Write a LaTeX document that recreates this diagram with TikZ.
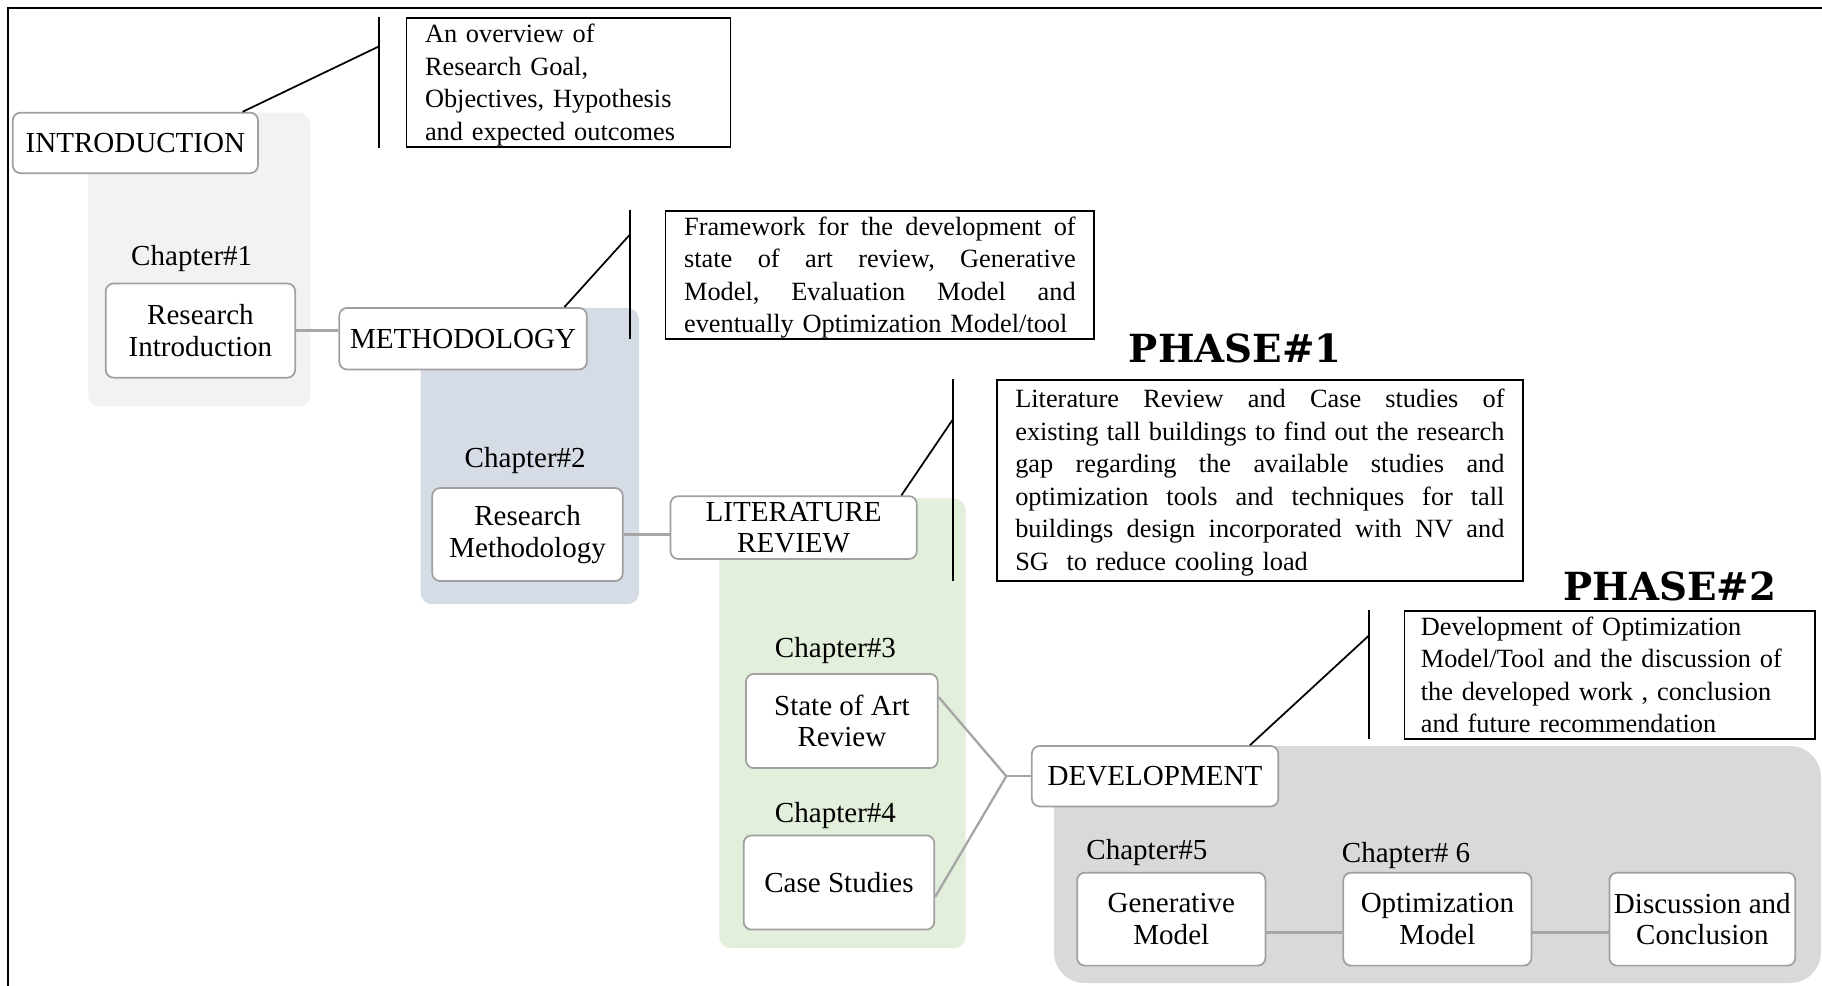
\documentclass[tikz,border=0pt]{standalone}
\usepackage{fontspec}
\setmainfont{Liberation Serif}
\newfontfamily\phasefont{DejaVu Serif}
\usetikzlibrary{calc}

\definecolor{bgone}{HTML}{F2F2F2}
\definecolor{bgtwo}{HTML}{D6DCE5}
\definecolor{bgthree}{HTML}{E2EFDA}
\definecolor{bgfour}{HTML}{D9D9D9}
\definecolor{boxline}{HTML}{A0A0A0}
\definecolor{linkline}{HTML}{A6A6A6}

% a justified line spanning the whole text width; \gap marks the word gaps
\newcommand\gap{\hspace{0.18em plus 1fill}}
\newcommand\jline[1]{\leavevmode\hbox to \hsize{#1}}
% extra room above the first line of a note
\newcommand\firststrut{\rule{0pt}{12pt}}

\begin{document}
\begin{tikzpicture}[x=0.6pt,y=-0.6pt,
  stepbox/.style={draw=boxline, line width=0.9pt, fill=white, rounded corners=4pt,
    align=center, inner xsep=2pt, inner ysep=1pt,
    font=\fontsize{15}{16.3}\selectfont},
  chaplabel/.style={inner sep=0pt, font=\fontsize{15}{16.3}\selectfont},
  notebox/.style={draw=black, line width=0.9pt, anchor=north west, align=left,
    inner xsep=9.6pt, inner ysep=0pt, font=\fontsize{13.6}{16.8}\selectfont},
  chapbg/.style={rounded corners=6pt},
  link/.style={draw=linkline, line width=1.2pt},
  callout/.style={draw=black, line width=0.9pt},
  phase/.style={inner sep=0pt, font=\phasefont\bfseries\fontsize{20}{24}\selectfont}
]
\useasboundingbox (0,0) rectangle (1568,848);
\fill[white] (0,0) rectangle (1568,848);

% outer frame
\draw[line width=1pt] (7,870) -- (7,7) -- (1590,7);

% chapter backgrounds
\fill[bgone, chapbg] (76,97) rectangle (267,350);
\fill[bgtwo, chapbg] (362,265) rectangle (550,520);
\fill[bgthree, chapbg] (619,429) rectangle (831,816);
\fill[bgfour, rounded corners=16pt] (907,642) rectangle (1567,846);

% chapter boxes
\node[stepbox, minimum width=126.6pt, minimum height=31.2pt] (intro) at (116.5,123) {INTRODUCTION};
\node[chaplabel] (ch1) at (165,222.5) {Chapter\#1};
\node[stepbox, minimum width=97.8pt, minimum height=48.6pt] (resintro) at (172.5,284.5) {Research\\Introduction};

\node[stepbox, minimum width=127.8pt, minimum height=31.8pt] (meth) at (398.5,291.5) {METHODOLOGY};
\node[chaplabel] (ch2) at (452,396.5) {Chapter\#2};
\node[stepbox, minimum width=98.4pt, minimum height=48pt] (resmeth) at (454,460) {Research\\Methodology};

\node[stepbox, minimum width=127.2pt, minimum height=32.4pt] (lit) at (683,454) {LITERATURE\\REVIEW};
\node[chaplabel] (ch3) at (719,559.5) {Chapter\#3};
\node[stepbox, minimum width=99pt, minimum height=48.6pt] (soa) at (724.5,620.5) {State of Art\\Review};
\node[chaplabel] (ch4) at (719,701.5) {Chapter\#4};
\node[stepbox, minimum width=98.4pt, minimum height=48.6pt] (cs) at (722,759.5) {Case Studies};

\node[stepbox, minimum width=127.2pt, minimum height=31.2pt] (dev) at (994,668) {DEVELOPMENT};
\node[chaplabel] (ch5) at (987,733.5) {Chapter\#5};
\node[chaplabel] (ch6) at (1210,736.5) {Chapter\# 6};
\node[stepbox, minimum width=97.2pt, minimum height=48pt] (gen) at (1008,791) {Generative\\Model};
\node[stepbox, minimum width=97.2pt, minimum height=48pt] (opt) at (1237,791) {Optimization\\Model};
\node[stepbox, minimum width=96pt, minimum height=48pt] (disc) at (1465,791) {Discussion and\\Conclusion};

% links between chapters
\coordinate (junc) at (866,668);
\draw[link] (resintro.east) -- (resintro.east -| meth.west);
\draw[link] (resmeth.east) -- (resmeth.east -| lit.west);
\draw[link] ($(soa.north east)!0.25!(soa.south east)$) -- (junc);
\draw[link] ($(cs.north east)!0.65!(cs.south east)$) -- (junc);
\draw[link] (junc) -- (junc -| dev.west);
\draw[link] ($(gen.north east)!0.64!(gen.south east)$) coordinate (ga) -- (ga -| opt.west);
\draw[link] ($(opt.north east)!0.64!(opt.south east)$) coordinate (ob) -- (ob -| disc.west);

% description boxes
\node[notebox, text width=148.2pt, minimum height=66.6pt] (ov) at (349,15) {%
\firststrut An overview of\\Research Goal,\\Objectives, Hypothesis\\and expected outcomes};

\node[notebox, text width=202.2pt, minimum height=66pt] (fw) at (572,181) {%
\jline{\firststrut Framework\gap for\gap the\gap development\gap of}\\
\jline{state\gap of\gap art\gap review,\gap Generative}\\
\jline{Model,\gap Evaluation\gap Model\gap and}\\
eventually Optimization Model/tool};

\node[notebox, text width=252.6pt, minimum height=103.8pt] (lr) at (857,326) {%
\jline{\firststrut Literature\gap Review\gap and\gap Case\gap studies\gap of}\\
\jline{existing\gap tall\gap buildings\gap to\gap find\gap out\gap the\gap research}\\
\jline{gap\gap regarding\gap the\gap available\gap studies\gap and}\\
\jline{optimization\gap tools\gap and\gap techniques\gap for\gap tall}\\
\jline{buildings\gap design\gap incorporated\gap with\gap NV\gap and}\\
SG\ \ to reduce cooling load};

\node[notebox, inner xsep=8.4pt, text width=195pt, minimum height=66pt] (dv) at (1208,525) {%
Development of Optimization\\Model/Tool and the discussion of\\the developed work , conclusion\\and future recommendation};

\node[phase] (ph1) at (1063,300) {PHASE\#1};
\node[phase] (ph2) at (1437,505) {PHASE\#2};

% callout brackets
\coordinate (v1t) at (326,15);  \coordinate (v1b) at (326,127); \coordinate (v1m) at (326,40);
\coordinate (v2t) at (542,181); \coordinate (v2b) at (542,292); \coordinate (v2m) at (542,202);
\coordinate (v3t) at (820,326); \coordinate (v3b) at (820,500); \coordinate (v3m) at (820,361);
\coordinate (v4t) at (1178,525); \coordinate (v4b) at (1178,636); \coordinate (v4m) at (1178,547);
\draw[callout] (v1t) -- (v1b);
\draw[callout] ($(intro.north east)+(-14,0)$) -- (v1m);
\draw[callout] (v2t) -- (v2b);
\draw[callout] ($(meth.north east)+(-20,0)$) -- (v2m);
\draw[callout] (v3t) -- (v3b);
\draw[callout] ($(lit.north east)+(-14,0)$) -- (v3m);
\draw[callout] (v4t) -- (v4b);
\draw[callout] ($(dev.north east)+(-25,0)$) -- (v4m);
\end{tikzpicture}
\end{document}
